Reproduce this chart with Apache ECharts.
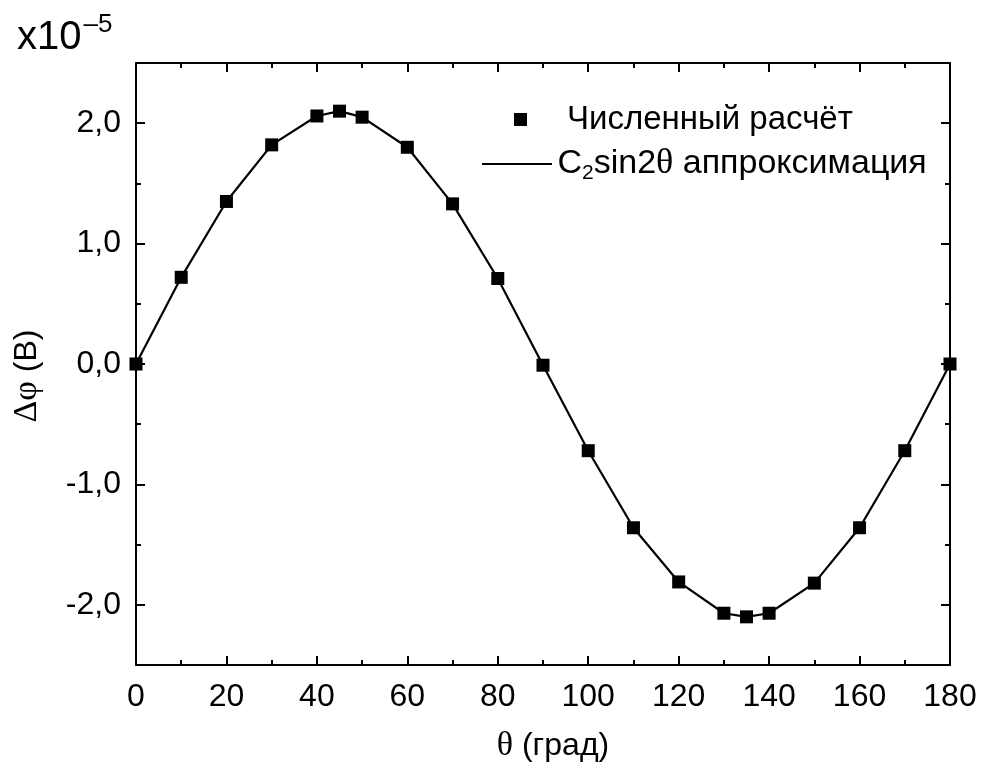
<!DOCTYPE html>
<html><head><meta charset="utf-8">
<script src="https://cdn.jsdelivr.net/npm/echarts@6/dist/echarts.min.js"></script>
<style>html,body{margin:0;padding:0;background:#fff}#c{width:986px;height:774px}</style>
</head><body><div id="c"></div>
<script>
const angles = [0,10,20,30,40,45,50,60,70,80,90,100,110,120,130,135,140,150,160,170,180];
const numericValues = [0,0.72,1.35,1.82,2.06,2.10,2.05,1.80,1.33,0.71,-0.01,-0.72,-1.36,-1.81,-2.07,-2.10,-2.07,-1.82,-1.36,-0.72,0];
const fitValues = [0,0.72,1.35,1.82,2.06,2.10,2.05,1.80,1.33,0.71,-0.01,-0.72,-1.36,-1.81,-2.07,-2.10,-2.07,-1.82,-1.36,-0.72,0];
const xMajorTicks = [0,20,40,60,80,100,120,140,160,180];
const xMinorTicks = [10,30,50,70,90,110,130,150,170];
const yMajorTicks = [-2,-1,0,1,2];
const yMinorTicks = [-2.5,-1.5,-0.5,0.5,1.5,2.5];
const seriesNames = ['Численный расчёт','C2sin2θ аппроксимация'];

const FONT = 'Liberation Sans, Arial, sans-serif';
const SERIF = 'Liberation Serif, serif';
const chart = echarts.init(document.getElementById('c'));
const lineStyle = {color:'#000', width:2};

function xAxisDef(pos, ticks, len, labels, show) {
  return {
    type:'value', position:pos, min:0, max:180, interval:10,
    axisLine:{show:show, lineStyle:lineStyle, onZero:false},
    axisTick:{show:true, inside:true, length:len, lineStyle:lineStyle, customValues:ticks},
    axisLabel:{show:labels, customValues:ticks, fontFamily:FONT, fontSize:32, color:'#000', margin:16},
    splitLine:{show:false}
  };
}
function yAxisDef(pos, ticks, len, labels, show) {
  return {
    type:'value', position:pos, min:-2.5, max:2.5, interval:0.5,
    axisLine:{show:show, lineStyle:lineStyle, onZero:false},
    axisTick:{show:true, inside:true, length:len, lineStyle:lineStyle, customValues:ticks},
    axisLabel:{show:labels, customValues:ticks, fontFamily:FONT, fontSize:32, color:'#000', margin:15,
      formatter:v => v.toFixed(1).replace('.', ',').replace('-0,0','0,0')},
    splitLine:{show:false}
  };
}

const xAxes = [
  Object.assign(xAxisDef('bottom', xMajorTicks, 9, true, true), {
    name:'{g|θ} (град)', nameLocation:'middle', nameGap:64,
    nameTextStyle:{fontFamily:FONT, fontSize:32, color:'#000', padding:[0,0,0,20],
      rich:{g:{fontFamily:SERIF, fontSize:34, color:'#000'}}}
  }),
  xAxisDef('bottom', xMinorTicks, 5, false, false),
  xAxisDef('top', xMajorTicks, 9, false, true),
  xAxisDef('top', xMinorTicks, 5, false, false)
];
const yAxes = [
  Object.assign(yAxisDef('left', yMajorTicks, 9, true, true), {
    name:'{g|Δφ} (В)', nameLocation:'middle', nameGap:92, nameRotate:90,
    nameTextStyle:{fontFamily:FONT, fontSize:32, color:'#000', padding:[0,24,0,0],
      rich:{g:{fontFamily:SERIF, fontSize:34, color:'#000'}}}
  }),
  yAxisDef('left', yMinorTicks, 5, false, false),
  yAxisDef('right', yMajorTicks, 9, false, true),
  yAxisDef('right', yMinorTicks, 5, false, false)
];

chart.setOption({
  animation:false,
  backgroundColor:'#fff',
  grid:{left:136, right:36, top:63, bottom:109, containLabel:false, outerBoundsMode:'none'},
  xAxis:xAxes,
  yAxis:yAxes,
  legend:[
    {data:[seriesNames[0]], left:509, top:98, itemWidth:13, itemHeight:13, itemGap:0,
     textStyle:{fontFamily:FONT, fontSize:33, color:'#000', padding:[0,0,0,35]}},
    {data:[{name:seriesNames[1], icon:'path://M0,0L70,0L70,2L0,2Z'}], left:477, top:141, itemWidth:71, itemHeight:2, itemGap:0,
     formatter:() => 'C{s|2}sin2{g|θ} аппроксимация',
     textStyle:{fontFamily:FONT, fontSize:34, color:'#000', padding:[0,0,0,0],
       rich:{s:{fontFamily:FONT, fontSize:21, color:'#000', verticalAlign:'bottom', padding:[18,0,0,0]},
             g:{fontFamily:SERIF, fontSize:36, color:'#000'}}}}
  ],
  graphic:[{type:'text', left:17, top:12, style:{
    text:'x10{sup|–5}', fontFamily:FONT, fontSize:40, fill:'#000',
    rich:{sup:{fontFamily:FONT, fontSize:26, fill:'#000', verticalAlign:'top', padding:[0,0,26,2]}}
  }}],
  series:[
    {name:seriesNames[1], type:'line', xAxisIndex:0, yAxisIndex:0, symbol:'none',
     lineStyle:{color:'#000', width:2.2}, itemStyle:{color:'#000'},
     data:angles.map((a,i)=>[a, fitValues[i]]), z:2},
    {name:seriesNames[0], type:'scatter', xAxisIndex:0, yAxisIndex:0, symbol:'rect', symbolSize:13,
     itemStyle:{color:'#000', opacity:1}, data:angles.map((a,i)=>[a, numericValues[i]]), z:3}
  ]
});
</script></body></html>
